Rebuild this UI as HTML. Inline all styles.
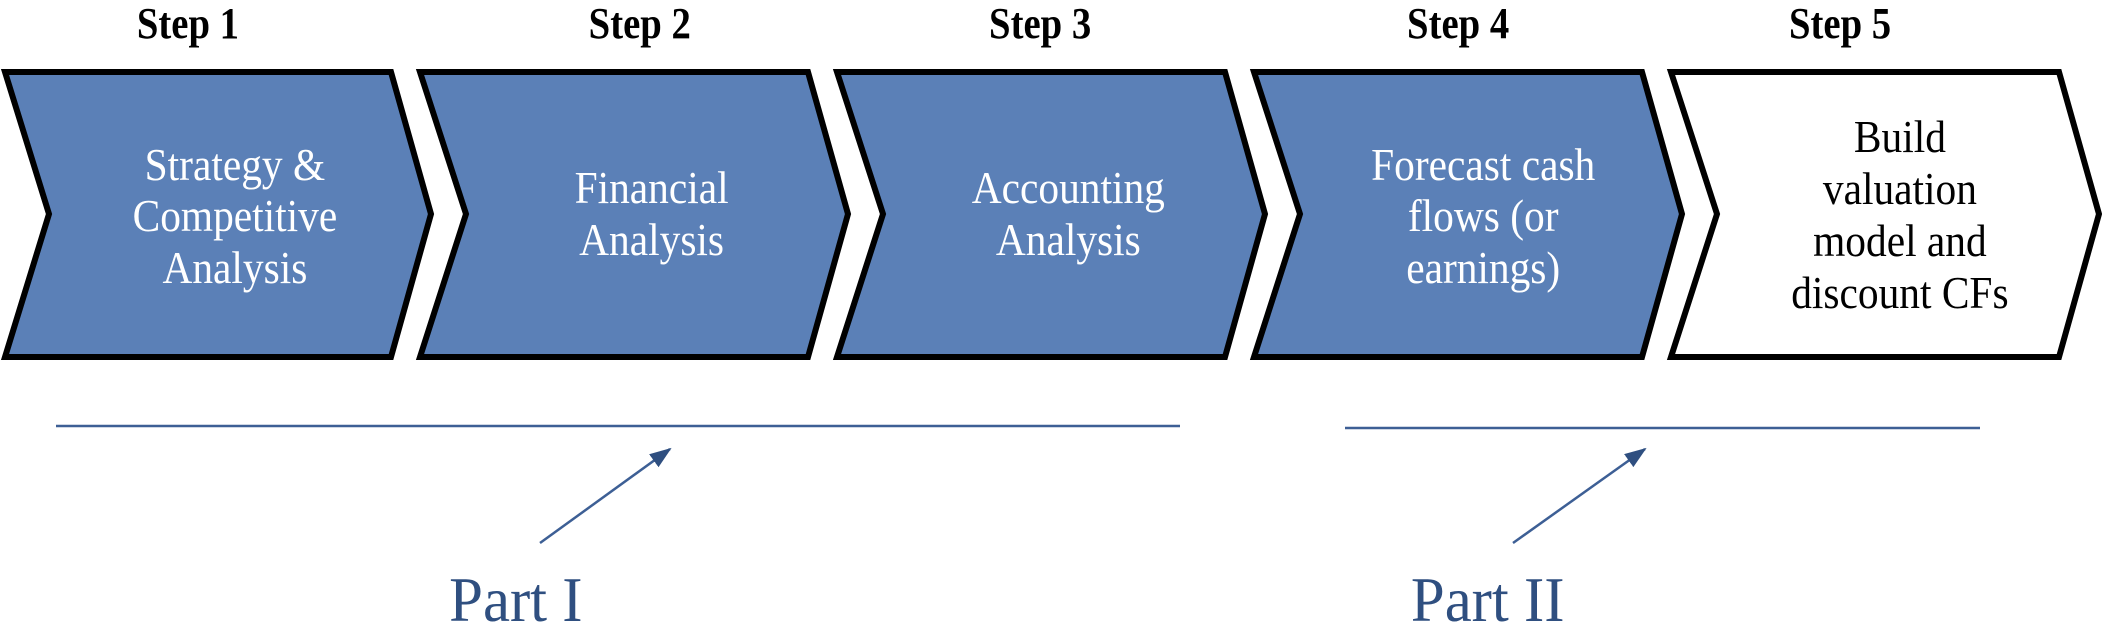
<!DOCTYPE html>
<html><head><style>html,body{margin:0;padding:0;background:#fff}svg{display:block}</style></head>
<body>
<svg width="2102" height="624" viewBox="0 0 2102 624" xmlns="http://www.w3.org/2000/svg" font-family="'Liberation Serif', serif">
<defs><marker id="ah" markerWidth="24" markerHeight="20" refX="20" refY="10" orient="auto" markerUnits="userSpaceOnUse"><path d="M0,2 L22,10 L0,18 z" fill="#2f4f80"/></marker></defs>
<g font-weight="bold" font-size="44" text-anchor="middle" fill="#000" transform="scale(0.88,1)">
<text x="213.6" y="38">Step 1</text><text x="727" y="38">Step 2</text><text x="1182" y="38">Step 3</text><text x="1657" y="38">Step 4</text><text x="2091" y="38">Step 5</text>
</g>
<g stroke="#000" stroke-width="6" stroke-linejoin="miter">
<polygon points="5,72 391,72 431,214 391,357 5,357 49,214" fill="#5b80b7"/>
<polygon points="420,72 808,72 848,214 808,357 420,357 466,214" fill="#5b80b7"/>
<polygon points="837,72 1225,72 1265,214 1225,357 837,357 883,214" fill="#5b80b7"/>
<polygon points="1254,72 1642,72 1682,214 1642,357 1254,357 1300,214" fill="#5b80b7"/>
<polygon points="1671,72 2059,72 2099,214 2059,357 1671,357 1717,214" fill="#fff"/>
</g>
<g font-size="46" text-anchor="middle" fill="#fff" transform="scale(0.9,1)">
<text x="261" y="180">Strategy &amp;</text><text x="261" y="231">Competitive</text><text x="261" y="283">Analysis</text>
<text x="724" y="203">Financial</text><text x="724" y="255">Analysis</text>
<text x="1187" y="203">Accounting</text><text x="1187" y="255">Analysis</text>
<text x="1648" y="180">Forecast cash</text><text x="1648" y="231">flows (or</text><text x="1648" y="283">earnings)</text>
</g>
<g font-size="46" text-anchor="middle" fill="#000" transform="scale(0.9,1)">
<text x="2111" y="152">Build</text><text x="2111" y="204">valuation</text><text x="2111" y="256">model and</text><text x="2111" y="308">discount CFs</text>
</g>
<g stroke="#3d5f95" stroke-width="2.5">
<line x1="56" y1="426" x2="1180" y2="426"/>
<line x1="1345" y1="428" x2="1980" y2="428"/>
<line x1="540" y1="543" x2="670" y2="449" marker-end="url(#ah)"/>
<line x1="1513" y1="543" x2="1645" y2="449" marker-end="url(#ah)"/>
</g>
<g font-size="64" text-anchor="middle" fill="#2f4f80" transform="scale(0.95,1)">
<text x="543" y="621">Part I</text><text x="1566" y="621">Part II</text>
</g>
</svg>
</body></html>
